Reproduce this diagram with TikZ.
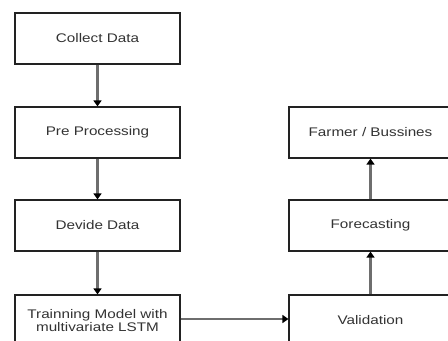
\documentclass[tikz,border=0pt]{standalone}
\usepackage{fontspec}
\setmainfont{Liberation Sans}
\usetikzlibrary{arrows.meta}
\definecolor{txt}{HTML}{333333}
\definecolor{edge}{HTML}{222222}
\definecolor{conn}{HTML}{6E6E6E}
\tikzset{
  box/.style={draw=edge, line width=1.2bp, fill=white, minimum width=165bp, minimum height=51bp, inner sep=0pt, text=txt, align=center, font=\fontsize{12.5bp}{15bp}\selectfont},
  rbox/.style={box, minimum width=163bp},
  conn/.style={draw=conn, line width=2.2bp, -{Triangle[length=6bp,width=8bp,color=black]}},
  hconn/.style={draw=conn, line width=1.5bp, -{Triangle[length=6bp,width=8bp,color=black]}}
}
\newcommand{\sx}[1]{\scalebox{1.22}[1]{#1}}
\begin{document}
\begin{tikzpicture}[x=1bp,y=-1bp]
\useasboundingbox (0,0) rectangle (448,340);
\clip (0,0) rectangle (448,340);
\node[box] (collect) at (97.5,38.5) {\sx{Collect Data}};
\node[box] (pre) at (97.5,132.5) {\sx{Pre Processing}};
\node[box] (divide) at (97.5,225.5) {\sx{Devide Data}};
\node[box] (train) at (97.5,320.5) {\sx{Trainning Model with}\\[-1.5bp]\sx{multivariate LSTM}};
\node[rbox] (farmer) at (370.5,132.5) {\sx{Farmer / Bussines}};
\node[rbox] (fore) at (370.5,225.5) {\sx{Forecasting}};
\node[rbox] (valid) at (370.5,320.5) {\sx{Validation}};
\draw[conn] (collect) -- (pre);
\draw[conn] (pre) -- (divide);
\draw[conn] (divide) -- (train);
\draw[hconn] (train.east |- 0,319) -- (valid.west |- 0,319);
\draw[conn] (valid) -- (fore);
\draw[conn] (fore) -- (farmer);
\end{tikzpicture}
\end{document}
